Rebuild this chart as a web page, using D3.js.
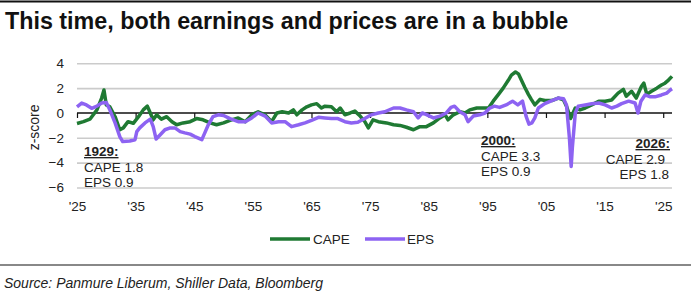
<!DOCTYPE html>
<html><head><meta charset="utf-8">
<script src="https://cdn.jsdelivr.net/npm/d3@7"></script>
<style>
html,body{margin:0;padding:0;background:#fff;}
svg{display:block;font-family:"Liberation Sans",Arial,sans-serif;}
</style></head>
<body><svg id="c" width="691" height="296"></svg>
<script>
const capeYears=[1925.0,1926.1,1927.2,1928.4,1929.2,1929.6,1930.0,1930.6,1931.5,1932.3,1932.9,1933.7,1934.6,1935.5,1936.3,1937.0,1937.5,1938.0,1938.6,1939.4,1940.3,1941.2,1942.0,1943.1,1944.3,1945.4,1946.5,1947.7,1948.8,1950.0,1951.1,1952.5,1953.7,1954.8,1955.9,1957.1,1958.2,1959.1,1960.0,1961.1,1961.9,1962.5,1963.4,1964.2,1965.0,1965.9,1966.7,1967.3,1968.4,1969.3,1969.9,1970.7,1971.6,1972.4,1973.3,1974.1,1974.7,1975.5,1976.4,1977.8,1979.0,1980.1,1981.2,1982.4,1983.5,1984.6,1985.8,1986.9,1987.8,1988.3,1989.2,1990.3,1991.2,1992.0,1993.2,1994.3,1995.2,1996.0,1996.9,1997.7,1998.6,1999.1,1999.8,2000.3,2000.8,2001.4,2002.0,2002.5,2003.1,2004.0,2004.8,2006.0,2007.1,2008.0,2008.5,2009.2,2010.0,2010.8,2011.7,2012.8,2014.0,2015.1,2016.2,2017.3,2018.2,2018.7,2019.6,2020.4,2021.3,2021.7,2022.2,2023.0,2023.9,2024.7,2025.3,2025.9,2026.5];
const capeValues=[-0.85,-0.7,-0.5,0.25,1.2,1.85,0.65,0.5,-0.3,-1.35,-1.2,-0.7,-0.83,-0.3,0.25,0.55,0.0,-0.55,-0.15,-0.5,-0.3,-0.7,-0.95,-0.8,-0.7,-0.45,-0.55,-0.8,-0.95,-0.8,-0.6,-0.4,-0.7,-0.15,0.1,-0.15,-0.7,0.0,0.1,0.0,0.25,-0.15,0.25,0.5,0.65,0.75,0.4,0.55,0.5,0.1,0.4,-0.15,0.0,0.15,-0.25,-0.7,-1.2,-0.55,-0.7,-0.8,-0.95,-1.0,-1.15,-1.35,-1.1,-1.1,-0.8,-0.4,-0.15,-0.55,-0.15,0.1,0.0,0.25,0.4,0.4,0.4,0.95,1.5,2.0,2.65,3.05,3.3,3.15,2.65,2.05,1.5,1.1,0.65,1.1,1.0,1.0,1.2,1.05,0.55,-0.45,0.4,0.25,0.4,0.65,0.95,0.95,1.05,1.6,1.9,1.35,1.75,1.2,2.15,2.4,1.5,1.75,2.0,2.25,2.4,2.65,2.95];
const epsYears=[1925.0,1925.8,1926.6,1927.5,1928.4,1929.2,1930.0,1930.6,1931.5,1932.3,1932.8,1934.0,1934.9,1935.2,1935.7,1936.6,1937.5,1938.0,1938.5,1939.2,1940.0,1940.9,1941.7,1942.6,1943.4,1944.3,1945.1,1946.3,1946.8,1947.4,1948.2,1949.1,1950.0,1951.1,1952.5,1953.7,1954.8,1955.9,1957.1,1958.2,1959.4,1960.5,1961.6,1962.8,1963.9,1965.0,1966.2,1967.3,1968.4,1969.5,1970.7,1971.8,1972.9,1974.1,1975.2,1976.4,1977.5,1979.0,1980.1,1981.2,1982.4,1983.2,1983.9,1984.7,1985.8,1986.9,1988.0,1988.8,1989.4,1990.3,1991.2,1991.7,1992.6,1993.7,1994.6,1995.4,1996.2,1997.1,1998.2,1999.3,2000.2,2001.0,2001.6,2002.1,2002.6,2003.1,2003.7,2004.8,2006.0,2007.1,2008.0,2008.5,2009.0,2009.3,2009.5,2010.0,2010.5,2011.7,2012.8,2014.0,2015.1,2016.2,2017.1,2017.9,2019.1,2020.2,2020.7,2021.2,2021.9,2022.8,2023.6,2024.7,2025.6,2026.2,2026.5];
const epsValues=[0.5,0.8,0.65,0.38,0.55,0.8,0.85,0.25,-0.8,-1.9,-2.3,-2.25,-2.15,-1.5,-1.2,-0.8,-0.5,-1.1,-2.1,-1.75,-1.35,-1.2,-1.2,-1.5,-1.6,-1.7,-1.9,-2.15,-1.6,-0.95,-0.3,-0.15,-0.2,-0.45,-0.7,-0.7,-0.4,0.0,-0.25,-0.8,-0.7,-0.7,-1.1,-0.95,-0.8,-0.6,-0.35,-0.4,-0.45,-0.45,-0.7,-0.8,-0.75,-0.45,-0.15,0.0,0.1,0.4,0.4,0.25,0.1,-0.4,0.0,-0.15,-0.4,-0.25,0.0,0.45,0.55,0.1,-0.15,-0.7,-0.25,-0.15,0.0,0.4,0.55,0.45,0.65,0.95,0.65,0.95,-0.25,-0.9,-0.8,-0.4,0.4,0.75,1.0,1.2,1.15,0.65,-2.0,-4.3,-2.8,0.0,0.55,0.65,0.75,0.8,0.65,0.4,0.55,0.75,0.95,0.8,0.0,0.95,1.45,1.3,1.3,1.45,1.6,1.85,1.95];
const yTicks=[-6,-4,-2,0,2,4];
const xTicks=[1925,1935,1945,1955,1965,1975,1985,1995,2005,2015,2025];
const seriesNames=["CAPE","EPS"];
const seriesColors=["#1f7a33","#8d63f2"];
const titleText="This time, both earnings and prices are in a bubble";
const sourceText="Source: Panmure Liberum, Shiller Data, Bloomberg";
const notes=[
 {head:"1929:",lines:["CAPE 1.8","EPS 0.9"]},
 {head:"2000:",lines:["CAPE 3.3","EPS 0.9"]},
 {head:"2026:",lines:["CAPE 2.9","EPS 1.8"]}
];

const svg=d3.select("#c");
svg.append("rect").attr("width",691).attr("height",296).attr("fill","#fff");
const L=77,R=672,T=63.3,B=187.5;
const x=d3.scaleLinear().domain([1925,2026.5]).range([L,R]);
const y=d3.scaleLinear().domain([-6,4]).range([B,T]);

// top rule & title
svg.append("line").attr("x1",0).attr("x2",691).attr("y1",1.5).attr("y2",1.5).attr("stroke","#111").attr("stroke-width",2);
svg.append("text").attr("x",5).attr("y",29).attr("font-size",23.3).attr("font-weight","bold").attr("fill","#111").text(titleText);

// gridlines
const grid=svg.append("g").attr("transform",`translate(${L},0)`)
 .call(d3.axisLeft(y).tickValues(yTicks.filter(d=>d!==0)).tickSize(-(R-L)).tickFormat(""));
grid.select(".domain").remove();
grid.selectAll("line").attr("stroke","#cbcbcb").attr("stroke-width",1.6);

// y labels
const ya=svg.append("g").attr("transform",`translate(${L},0)`)
 .call(d3.axisLeft(y).tickValues(yTicks).tickSize(0).tickPadding(13));
ya.select(".domain").remove();
ya.selectAll("text").attr("font-size",13.5).attr("fill","#222").attr("font-family","Liberation Sans, Arial, sans-serif");

svg.append("text").attr("transform",`translate(39,${(T+B)/2+2}) rotate(-90)`).attr("text-anchor","middle")
 .attr("font-size",14).attr("fill","#222").text("z-score");

// zero axis
const xa=svg.append("g").attr("transform",`translate(0,${y(0)})`)
 .call(d3.axisBottom(x).tickValues(xTicks).tickSize(5).tickFormat(""));
xa.select(".domain").attr("d",`M${L},0H${R}`).attr("stroke","#111").attr("stroke-width",1.4);
xa.selectAll(".tick line").attr("stroke","#111").attr("stroke-width",1.2);

// x labels
const xl=svg.append("g").attr("transform",`translate(0,201)`)
 .call(d3.axisBottom(x).tickValues(xTicks).tickSize(0).tickPadding(0).tickFormat(d=>"'"+String(d).slice(2)));
xl.select(".domain").remove();
xl.selectAll("text").attr("font-size",13.5).attr("fill","#222").attr("font-family","Liberation Sans, Arial, sans-serif");

// lines
const line=d3.line().x(d=>x(d[0])).y(d=>y(d[1])).curve(d3.curveLinear);
const capeData=capeYears.map((t,i)=>[t,capeValues[i]]);
const epsData=epsYears.map((t,i)=>[t,epsValues[i]]);
svg.append("path").datum(capeData).attr("d",line).attr("fill","none").attr("stroke",seriesColors[0]).attr("stroke-width",3.5).attr("stroke-linejoin","round");
svg.append("path").datum(epsData).attr("d",line).attr("fill","none").attr("stroke",seriesColors[1]).attr("stroke-width",3.5).attr("stroke-linejoin","round");

// annotations
function note(n,xp,yp,anchor,dxs){
  const g=svg.append("g").attr("font-size",13.5).attr("fill","#222");
  g.append("text").attr("x",xp).attr("y",yp).attr("text-anchor",anchor).attr("font-weight","bold")
   .attr("text-decoration","underline").text(n.head);
  n.lines.forEach((s,i)=>g.append("text").attr("x",xp+(dxs?dxs[i]:0)).attr("y",yp+15.5*(i+1)).attr("text-anchor",anchor).text(s));
}
note(notes[0],84,156,"start");
note(notes[1],481,145,"start");
note(notes[2],670,148,"end",[-5,-1]);

// legend
const lg=svg.append("g").attr("font-size",13.5).attr("fill","#222");
[[270,313],[365,407]].forEach((p,i)=>{
  lg.append("line").attr("x1",p[0]).attr("x2",p[0]+40).attr("y1",239).attr("y2",239).attr("stroke",seriesColors[i]).attr("stroke-width",3.5);
  lg.append("text").attr("x",p[1]).attr("y",244).text(seriesNames[i]);
});

// bottom rule & source
svg.append("line").attr("x1",0).attr("x2",691).attr("y1",265).attr("y2",265).attr("stroke","#888").attr("stroke-width",2);
svg.append("text").attr("x",4).attr("y",288).attr("font-size",14).attr("font-style","italic").attr("fill","#222").text(sourceText);
</script></body></html>
